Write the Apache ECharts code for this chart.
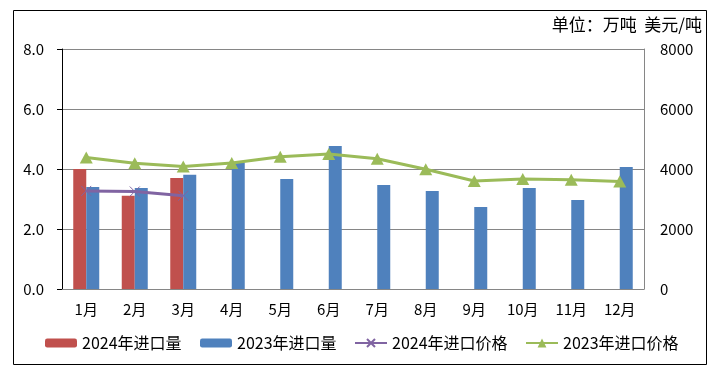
<!DOCTYPE html>
<html><head><meta charset="utf-8">
<script src="https://cdn.jsdelivr.net/npm/echarts@6/dist/echarts.min.js"></script>
<style>html,body{margin:0;padding:0;background:#fff}#c{width:715px;height:376px}</style>
</head><body><div id="c"></div>
<script>
const categories = ['1月','2月','3月','4月','5月','6月','7月','8月','9月','10月','11月','12月'];
const vol2024 = [4.0, 3.11, 3.7, null, null, null, null, null, null, null, null, null];
const vol2023 = [3.4, 3.37, 3.81, 4.22, 3.67, 4.77, 3.47, 3.27, 2.73, 3.37, 2.97, 4.07];
const price2024 = [3270, 3250, 3110, null, null, null, null, null, null, null, null, null];
const price2023 = [4380, 4190, 4080, 4200, 4410, 4500, 4340, 3990, 3600, 3670, 3640, 3580];
const leftTicks = [0, 2, 4, 6, 8];
const rightTicks = [0, 2000, 4000, 6000, 8000];
const names = ['2024年进口量','2023年进口量','2024年进口价格','2023年进口价格'];

const FONT = "'Noto Sans CJK SC', sans-serif";
const chart = echarts.init(document.getElementById('c'));
const legendBase = {top: 335, padding: 0, itemGap: 16, itemWidth: 32, textStyle: {fontSize: 16, fontFamily: FONT, color: '#000'}};
chart.setOption({
  animation: false,
  textStyle: {fontFamily: FONT},
  graphic: [{type: 'rect', shape: {x: 13.5, y: 10.5, width: 693, height: 354}, style: {fill: 'none', stroke: '#000', lineWidth: 1}, z: 100},
            {type: 'text', right: 13, top: 16, style: {text: '单位：万吨  美元/吨', font: "17px 'Noto Sans CJK SC'", fill: '#000'}}],
  grid: {left: 62, right: 71, top: 49, bottom: 87},
  legend: [
    Object.assign({}, legendBase, {left: 45, data: [names[0]], itemHeight: 9}),
    Object.assign({}, legendBase, {left: 200, data: [names[1]], itemHeight: 9}),
    Object.assign({}, legendBase, {left: 354, data: [names[2]], itemHeight: 10}),
    Object.assign({}, legendBase, {left: 525, data: [names[3]], itemHeight: 11})
  ],
  xAxis: {type: 'category', data: categories,
    axisLine: {lineStyle: {color: '#868686'}}, axisTick: {show: false},
    axisLabel: {fontSize: 15, color: '#000', margin: 13}},
  yAxis: [
    {type: 'value', min: 0, max: 8, interval: 2,
     axisLine: {show: true, lineStyle: {color: '#000'}},
     axisTick: {show: true, length: 5, lineStyle: {color: '#000'}},
     splitLine: {lineStyle: {color: '#868686'}},
     axisLabel: {fontSize: 15, color: '#000', margin: 18, formatter: v => leftTicks.includes(v) ? v.toFixed(1) : ''}},
    {type: 'value', min: 0, max: 8000, interval: 2000, position: 'right',
     axisLine: {show: true, lineStyle: {color: '#868686'}},
     axisTick: {show: false}, splitLine: {show: false},
     axisLabel: {fontSize: 15, color: '#000', margin: 16, formatter: v => rightTicks.includes(v) ? String(v) : ''}}
  ],
  series: [
    {name: names[0], type: 'bar', data: vol2024, barWidth: 13, barGap: '0%', itemStyle: {color: '#C0504D'}},
    {name: names[1], type: 'bar', data: vol2023, barWidth: 13, barGap: '0%', itemStyle: {color: '#4F81BD'}},
    {name: names[2], type: 'line', yAxisIndex: 1, data: price2024,
     symbol: 'path://M0,0L10,10M10,0L0,10', symbolSize: 10, showSymbol: true,
     lineStyle: {color: '#8064A2', width: 3},
     itemStyle: {color: '#8064A2', borderColor: '#8064A2', borderWidth: 1}, z: 5},
    {name: names[3], type: 'line', yAxisIndex: 1, data: price2023,
     symbol: 'triangle', symbolSize: [13, 12],
     lineStyle: {color: '#9BBB59', width: 3},
     itemStyle: {color: '#9BBB59'}, z: 6}
  ]
});
</script></body></html>
